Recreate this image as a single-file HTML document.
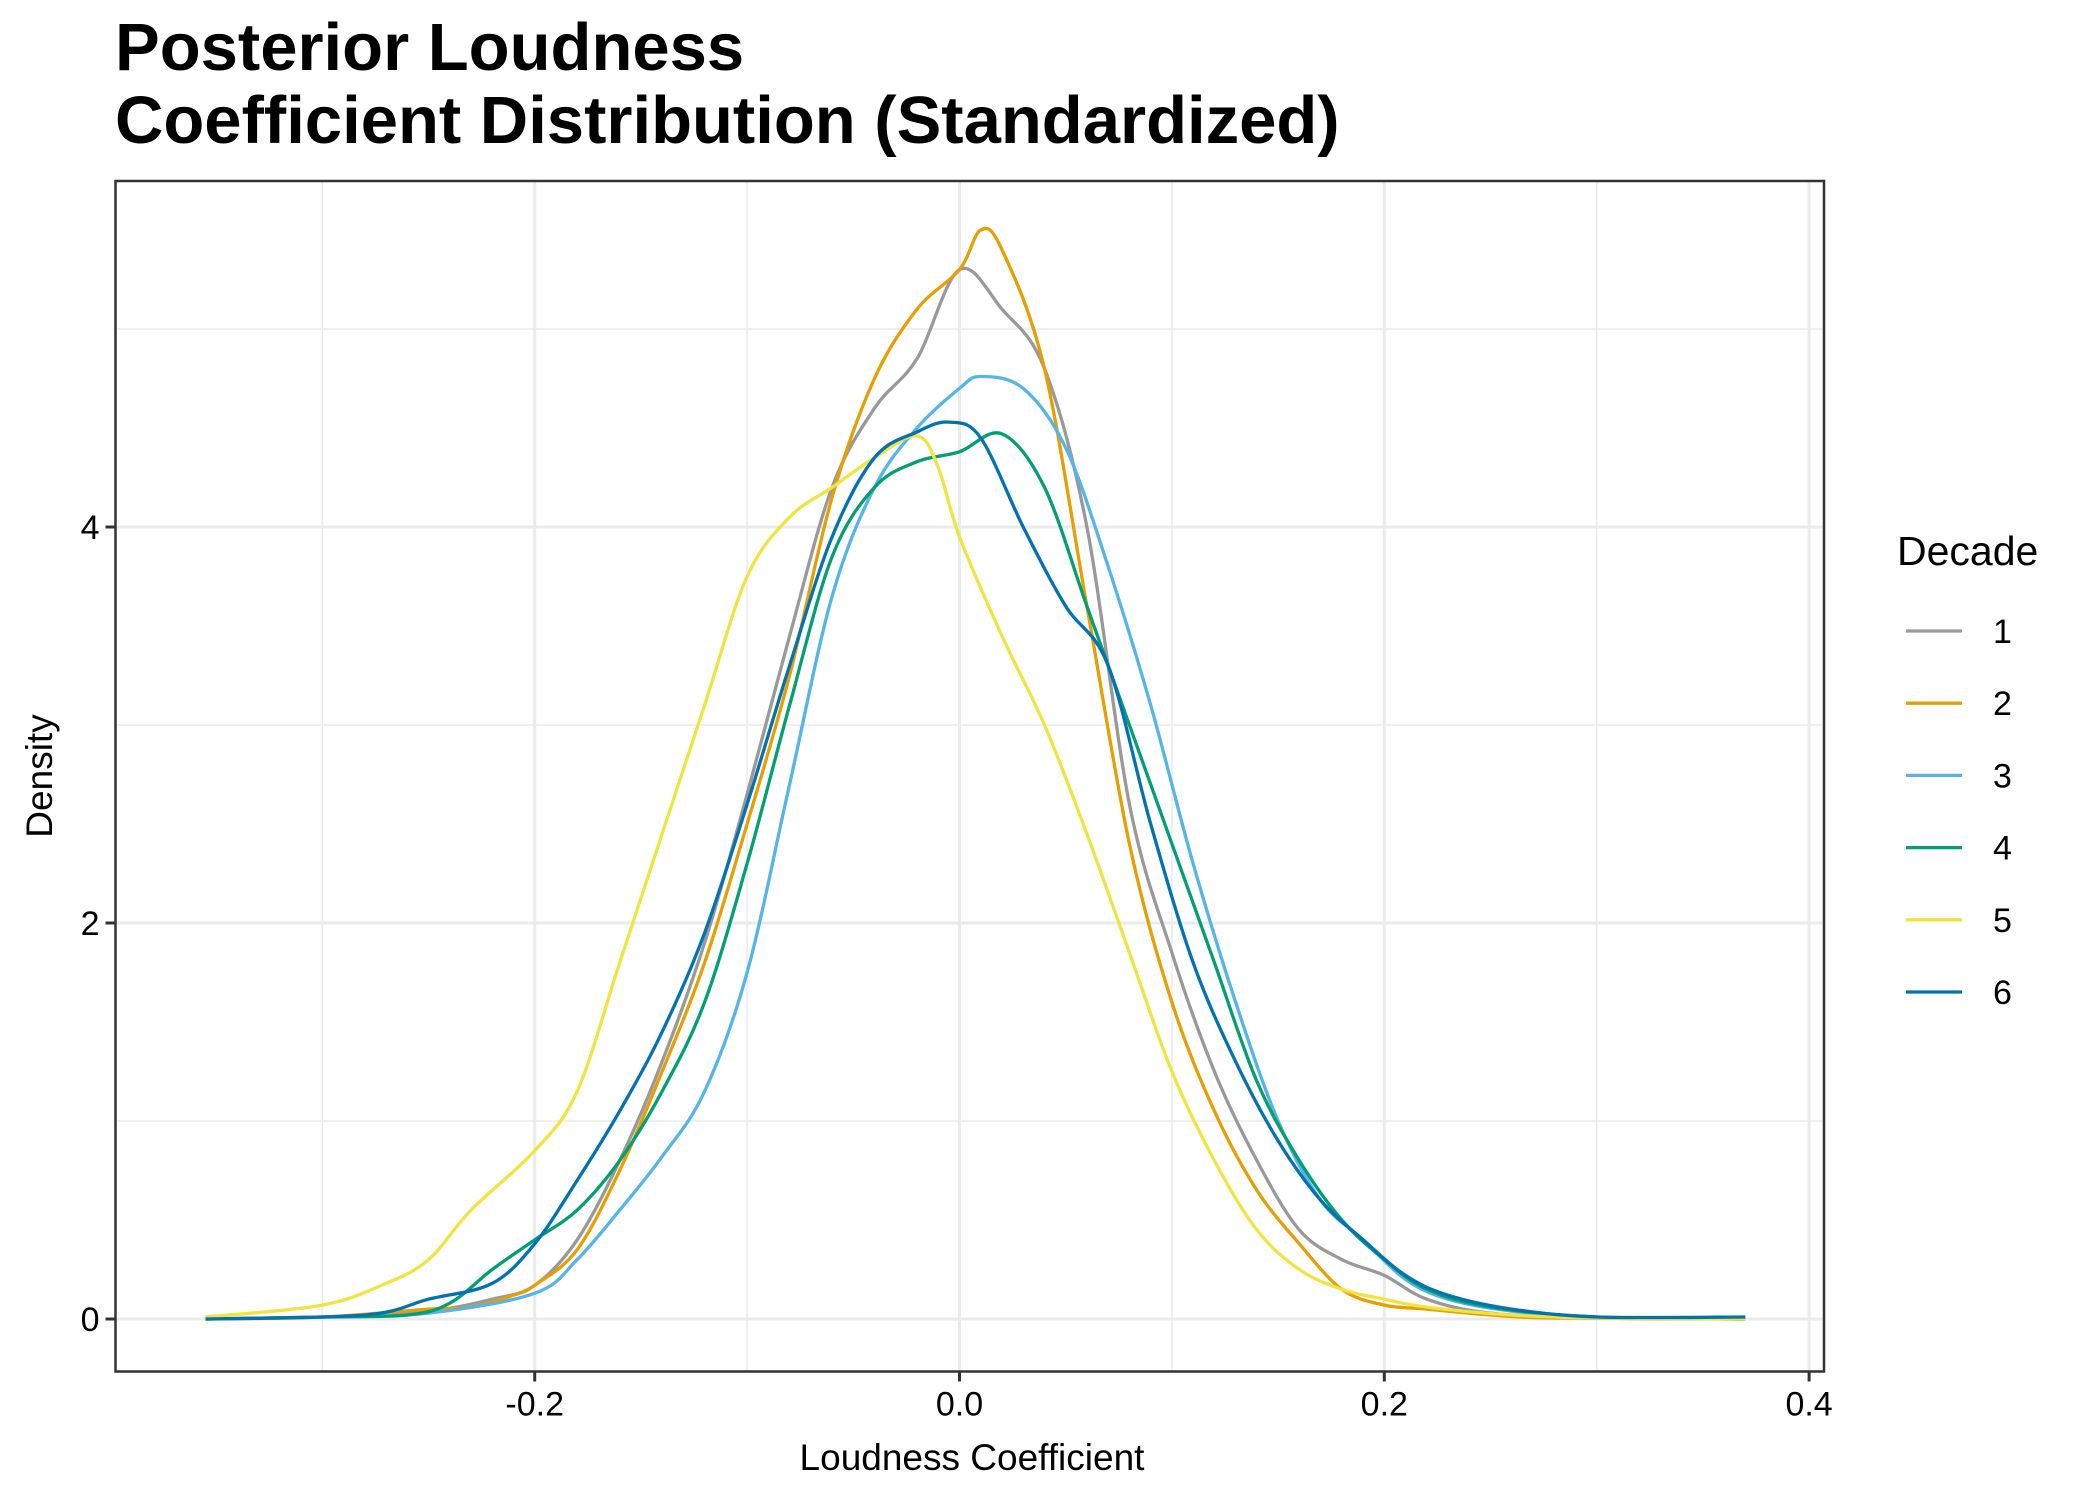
<!DOCTYPE html>
<html><head><meta charset="utf-8"><style>
body{margin:0;background:#fff}
svg{display:block;font-family:"Liberation Sans",Arial,sans-serif}
</style></head><body>
<svg id="chart" width="2100" height="1500" viewBox="0 0 2100 1500">
<text x="115" y="70" font-size="67" font-weight="bold" fill="#000">Posterior Loudness</text>
<text x="115" y="143" font-size="67" font-weight="bold" fill="#000">Coefficient Distribution (Standardized)</text>
<g id="grid"></g>
<g id="series"></g>
<rect x="115.5" y="181" width="1708.5" height="1190.5" fill="none" stroke="#333" stroke-width="2.5"/>
<g id="axes"></g>
<text x="972" y="1470" font-size="37" text-anchor="middle" fill="#000">Loudness Coefficient</text>
<text transform="translate(52,776) rotate(-90)" font-size="37" text-anchor="middle" fill="#000">Density</text>
<text x="1897" y="565" font-size="41" fill="#000">Decade</text>
<g id="legend"></g>
</svg>
<script>
const xTicks=[-0.2,0,0.2,0.4];
const xTickLabels=["-0.2","0.0","0.2","0.4"];
const xMinor=[-0.3,-0.1,0.1,0.3];
const yTicks=[0,2,4];
const yTickLabels=["0","2","4"];
const yMinor=[1,3,5];
const seriesNames=["1","2","3","4","5","6"];
const seriesColors=["#999999","#E69F00","#56B4E9","#009E73","#F0E442","#0072B2"];
const s1x=[-0.355,-0.3,-0.25,-0.22,-0.2,-0.18,-0.16,-0.14,-0.12,-0.1,-0.08,-0.06,-0.04,-0.02,0,0.02,0.04,0.06,0.08,0.1,0.12,0.14,0.16,0.18,0.2,0.22,0.25,0.3,0.37];
const s1y=[0,0.01,0.04,0.1,0.17,0.4,0.8,1.3,1.9,2.65,3.45,4.2,4.6,4.85,5.3,5.1,4.8,4.0,2.6,1.85,1.25,0.8,0.45,0.3,0.22,0.1,0.03,0.005,0];
const s2x=[-0.355,-0.3,-0.25,-0.23,-0.21,-0.2,-0.18,-0.16,-0.14,-0.12,-0.1,-0.08,-0.06,-0.04,-0.02,0,0.01,0.02,0.04,0.06,0.08,0.1,0.12,0.14,0.16,0.18,0.2,0.22,0.25,0.28,0.37];
const s2y=[0,0.01,0.05,0.06,0.12,0.17,0.35,0.75,1.25,1.8,2.5,3.25,4.15,4.75,5.1,5.3,5.5,5.4,4.8,3.6,2.4,1.6,1.05,0.65,0.38,0.15,0.07,0.05,0.02,0.005,0];
const s3x=[-0.355,-0.3,-0.25,-0.2,-0.18,-0.16,-0.14,-0.12,-0.1,-0.08,-0.06,-0.04,-0.02,0,0.01,0.03,0.05,0.07,0.09,0.11,0.13,0.15,0.17,0.19,0.21,0.23,0.26,0.3,0.37];
const s3y=[0,0.01,0.03,0.13,0.3,0.55,0.82,1.15,1.75,2.7,3.65,4.2,4.5,4.7,4.76,4.7,4.4,3.8,3.1,2.3,1.6,1.0,0.6,0.4,0.2,0.1,0.04,0.01,0];
const s4x=[-0.355,-0.3,-0.26,-0.24,-0.22,-0.2,-0.18,-0.16,-0.14,-0.12,-0.1,-0.08,-0.06,-0.04,-0.02,0,0.02,0.04,0.06,0.08,0.1,0.12,0.14,0.16,0.18,0.2,0.22,0.25,0.3,0.37];
const s4y=[0,0.01,0.02,0.08,0.25,0.4,0.55,0.8,1.15,1.6,2.3,3.1,3.85,4.2,4.33,4.38,4.47,4.2,3.6,3.0,2.4,1.8,1.2,0.8,0.5,0.3,0.15,0.06,0.01,0];
const s5x=[-0.355,-0.3,-0.27,-0.25,-0.23,-0.2,-0.18,-0.16,-0.14,-0.12,-0.1,-0.08,-0.06,-0.04,-0.02,-0.01,0,0.02,0.04,0.06,0.08,0.1,0.12,0.14,0.16,0.18,0.2,0.22,0.26,0.3,0.37];
const s5y=[0.01,0.07,0.18,0.3,0.55,0.85,1.15,1.8,2.45,3.1,3.75,4.05,4.2,4.35,4.46,4.3,3.95,3.45,3.0,2.45,1.85,1.25,0.8,0.45,0.25,0.15,0.1,0.06,0.02,0.005,0];
const s6x=[-0.355,-0.28,-0.25,-0.22,-0.2,-0.18,-0.16,-0.14,-0.12,-0.1,-0.08,-0.06,-0.04,-0.02,-0.005,0.01,0.03,0.05,0.07,0.09,0.11,0.13,0.15,0.17,0.19,0.21,0.23,0.26,0.3,0.37];
const s6y=[0,0.02,0.1,0.18,0.38,0.7,1.05,1.45,1.95,2.6,3.3,3.95,4.35,4.48,4.53,4.45,4.0,3.6,3.3,2.5,1.8,1.3,0.9,0.6,0.4,0.22,0.12,0.05,0.01,0.01];
const seriesX=[s1x,s2x,s3x,s4x,s5x,s6x];
const seriesY=[s1y,s2y,s3y,s4y,s5y,s6y];

const NS="http://www.w3.org/2000/svg";
const L=115.5,R=1824,T=181,B=1371.5;
function xs(v){return 959.5+v*2124;}
function ys(v){return 1319-v*198;}
function mk(tag,attrs,parent){const e=document.createElementNS(NS,tag);for(const k in attrs)e.setAttribute(k,attrs[k]);parent.appendChild(e);return e;}
const grid=document.getElementById('grid');
xMinor.forEach(v=>{const l=mk('line',{x1:xs(v),x2:xs(v),y1:T,y2:B,stroke:'#EBEBEB','stroke-width':1.5},grid);

});
yMinor.forEach(v=>{const l=mk('line',{x1:L,x2:R,y1:ys(v),y2:ys(v),stroke:'#EBEBEB','stroke-width':1.5},grid);

});
xTicks.forEach(v=>{const l=mk('line',{x1:xs(v),x2:xs(v),y1:T,y2:B,stroke:'#EBEBEB','stroke-width':3},grid);

});
yTicks.forEach(v=>{const l=mk('line',{x1:L,x2:R,y1:ys(v),y2:ys(v),stroke:'#EBEBEB','stroke-width':3},grid);

});
const axes=document.getElementById('axes');
xTicks.forEach((v,i)=>{const t=mk('line',{x1:xs(v),x2:xs(v),y1:B,y2:B+10,stroke:'#333','stroke-width':3},axes);


const tx=mk('text',{x:xs(v),y:B+44,'font-size':34,'text-anchor':'middle',fill:'#000'},axes);tx.textContent=xTickLabels[i];

});
yTicks.forEach((v,i)=>{const t=mk('line',{x1:L-10,x2:L,y1:ys(v),y2:ys(v),stroke:'#333','stroke-width':3},axes);


const tx=mk('text',{x:L-16,y:ys(v)+12,'font-size':34,'text-anchor':'end',fill:'#000'},axes);tx.textContent=yTickLabels[i];

});
function smoothPath(px,py){let d='M'+px[0].toFixed(1)+','+py[0].toFixed(1);
for(let i=0;i<px.length-1;i++){const i0=Math.max(0,i-1),i3=Math.min(px.length-1,i+2);
const c1x=px[i]+(px[i+1]-px[i0])/6,c1y=py[i]+(py[i+1]-py[i0])/6;
const c2x=px[i+1]-(px[i3]-px[i])/6,c2y=py[i+1]-(py[i3]-py[i])/6;
d+=' C'+c1x.toFixed(1)+','+c1y.toFixed(1)+' '+c2x.toFixed(1)+','+c2y.toFixed(1)+' '+px[i+1].toFixed(1)+','+py[i+1].toFixed(1);}
return d;}
const sg=document.getElementById('series');
const leg=document.getElementById('legend');
seriesNames.forEach((n,i)=>{const px=seriesX[i].map(xs),py=seriesY[i].map(ys);
const p=mk('path',{d:smoothPath(px,py),fill:'none',stroke:seriesColors[i],'stroke-width':3.3,'stroke-linejoin':'round'},sg);


const yy=631+i*72.2;
const g=mk('g',{},leg);


mk('line',{x1:1906,x2:1962,y1:yy,y2:yy,stroke:seriesColors[i],'stroke-width':3.3},g);
const t=mk('text',{x:1993,y:yy+12,'font-size':34,fill:'#000'},g);t.textContent=n;});
</script>
</body></html>
